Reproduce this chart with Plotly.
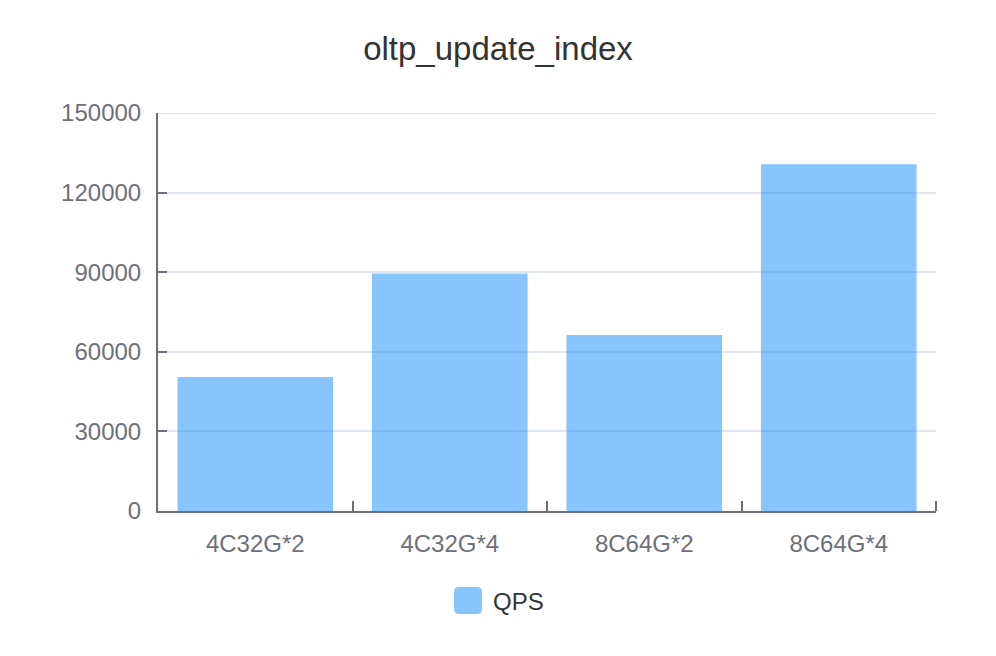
import plotly.graph_objects as go

categories = ["4C32G*2", "4C32G*4", "8C64G*2", "8C64G*4"]
qps = [50500, 89500, 66300, 130700]
y_ticks = [0, 30000, 60000, 90000, 120000, 150000]
series_name = "QPS"

W, H = 996, 656
OFF = 8  # page body margin
L, R, T, B = 158 - OFF, 60 + OFF, 113 - OFF, 145 + OFF
pw, ph = W - L - R, H - T - B

def px_x(x):
    return (x - OFF - L) / pw

def px_y(y):
    return (H - B - (y - OFF)) / ph

fig = go.Figure()
fig.add_trace(go.Bar(
    x=categories, y=qps, name=series_name,
    marker=dict(color="rgba(15,139,249,0.5)", line=dict(width=0)),
    showlegend=False,
))

# top gridline at 150000
fig.add_shape(type="line", xref="paper", yref="y", x0=0, x1=1,
              y0=y_ticks[-1], y1=y_ticks[-1],
              line=dict(color="#E0E6F1", width=2), layer="below")
# right-end x tick
fig.add_shape(type="line", xref="paper", yref="paper", x0=1, x1=1,
              y0=0, y1=10 / ph, line=dict(color="#6E7079", width=2))

# custom legend (rounded square + label)
x0, x1 = px_x(454), px_x(482)
y0, y1 = px_y(614), px_y(587)
rx, ry = 5 / pw, 5 / ph
path = (f"M{x0+rx},{y0} L{x1-rx},{y0} Q{x1},{y0} {x1},{y0+ry} "
        f"L{x1},{y1-ry} Q{x1},{y1} {x1-rx},{y1} L{x0+rx},{y1} "
        f"Q{x0},{y1} {x0},{y1-ry} L{x0},{y0+ry} Q{x0},{y0} {x0+rx},{y0} Z")
fig.add_shape(type="path", path=path, xref="paper", yref="paper",
              fillcolor="rgba(15,139,249,0.5)", line=dict(width=0))
fig.add_annotation(text=series_name, xref="paper", yref="paper",
                   x=px_x(491), y=px_y(601), xanchor="left", yanchor="middle",
                   showarrow=False, font=dict(size=24, color="#333333"))

font_fam = "Liberation Sans, Arial, sans-serif"
fig.update_layout(
    width=W, height=H,
    margin=dict(l=L, r=R, t=T, b=B),
    paper_bgcolor="white", plot_bgcolor="white",
    font=dict(family=font_fam, color="#6E7079"),
    title=dict(text="oltp_update_index", x=(498 - OFF) / W, xanchor="center",
               y=1 - (48 - OFF) / H, yanchor="middle",
               font=dict(size=33, color="#333333", family=font_fam)),
    bargap=0.2,
    showlegend=False,
)
fig.update_xaxes(
    type="category", showline=True, linecolor="#6E7079", linewidth=2,
    ticks="inside", ticklen=10, tickwidth=2, tickcolor="#6E7079",
    tickson="boundaries", showgrid=False,
    tickfont=dict(size=24, color="#6E7079"), ticklabelstandoff=10,
)
fig.update_yaxes(
    range=[0, 150000], tickvals=y_ticks, ticktext=[str(v) for v in y_ticks],
    showline=True, linecolor="#6E7079", linewidth=2,
    ticks="inside", ticklen=9, tickwidth=2, tickcolor="#6E7079",
    showgrid=True, gridcolor="#E0E6F1", gridwidth=2, zeroline=False,
    tickfont=dict(size=24, color="#6E7079"), ticklabelstandoff=10,
)

fig.write_html("out.html")
